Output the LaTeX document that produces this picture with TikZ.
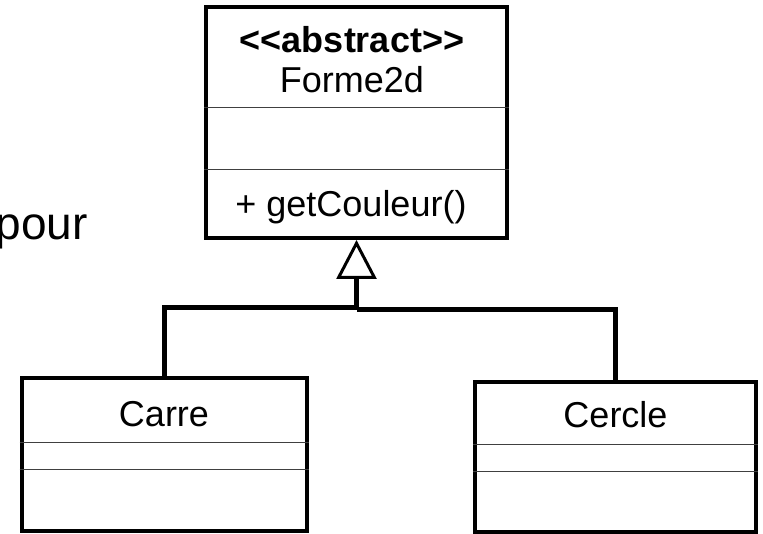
\documentclass[tikz,border=0pt]{standalone}
\usepackage{fontspec}
\setmainfont{Liberation Sans}
\usetikzlibrary{arrows.meta}
\begin{document}
\begin{tikzpicture}[x=1pt,y=-1pt,
  umlbox/.style={draw,line width=4pt,rectangle,inner sep=0pt},
  divider/.style={line width=1pt,draw=black!75},
  conn/.style={line width=4.6pt},
  lbl/.style={font=\fontsize{36}{40}\selectfont,inner sep=0pt,anchor=base},
]
\useasboundingbox (0,0) rectangle (763,534);
% classes
\node[umlbox,minimum width=301pt,minimum height=231pt] (forme) at (356.5,122.5) {};
\node[umlbox,minimum width=285.5pt,minimum height=152pt] (carre) at (164.25,454.5) {};
\node[umlbox,minimum width=281pt,minimum height=150pt] (cercle) at (615.5,457) {};
% compartments
\draw[divider] (forme.west |- 0,108) -- (forme.east |- 0,108);
\draw[divider] (forme.west |- 0,170) -- (forme.east |- 0,170);
\draw[divider] (carre.west |- 0,442) -- (carre.east |- 0,442);
\draw[divider] (carre.west |- 0,469) -- (carre.east |- 0,469);
\draw[divider] (cercle.west |- 0,444) -- (cercle.east |- 0,444);
\draw[divider] (cercle.west |- 0,471) -- (cercle.east |- 0,471);
% texts
\node[lbl] (stereo) at (352,53) {\bfseries <\kern0pt<abstract>\kern0pt>};
\node[lbl] (fname) at (352,93) {Forme2d};
\node[lbl] (meth) at (351,217) {+ getCouleur()};
\node[lbl] (carreT) at (164,427) {Carre};
\node[lbl] (cercleT) at (615.5,428) {Cercle};
\node[font=\fontsize{46}{50}\selectfont,inner sep=0pt,anchor=base east] (pour) at (88,240) {pour};
% inheritance
\coordinate (jl) at (356.5,307.5);
\coordinate (jr) at (356.5,309.5);
\draw[conn,-{Triangle[open,length=39pt,width=40pt,line width=3pt]}] (jr) -- (forme.south);
\draw[conn] (jl) -| (carre.north);
\draw[conn] (jr) -| (cercle.north);
\end{tikzpicture}
\end{document}
